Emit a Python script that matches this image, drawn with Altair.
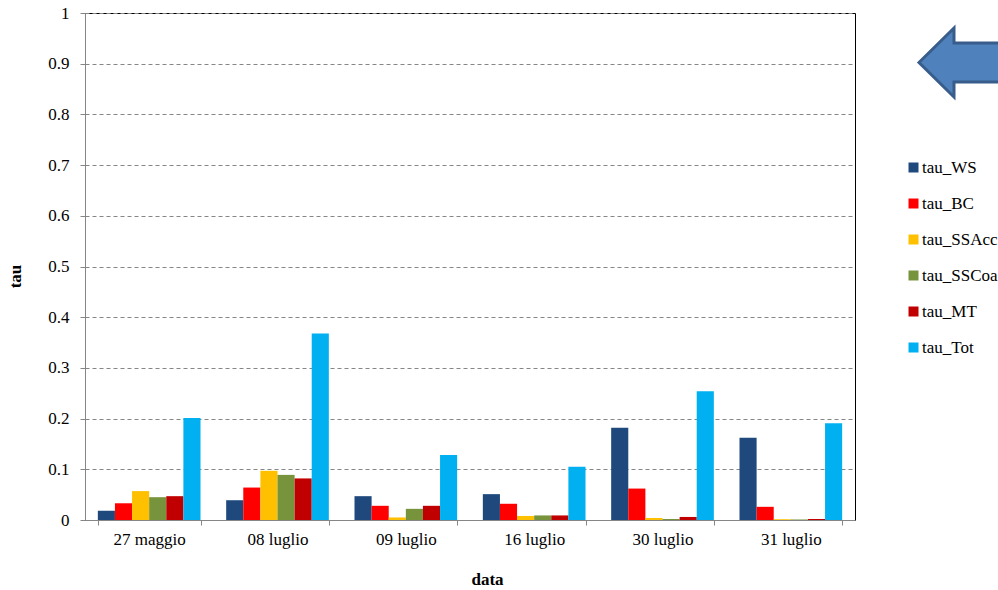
import altair as alt
import pandas as pd

# Dates of the measurement days
dates = ["27 maggio", "08 luglio", "09 luglio", "16 luglio", "30 luglio", "31 luglio"]

# Optical depth components
series = ["tau_WS", "tau_BC", "tau_SSAcc", "tau_SSCoa", "tau_MT", "tau_Tot"]
colors = ["#1F497D", "#FF0000", "#FFC000", "#77933C", "#C00000", "#00B0F0"]

tau_WS = [0.018, 0.039, 0.047, 0.051, 0.182, 0.162]
tau_BC = [0.033, 0.064, 0.028, 0.032, 0.062, 0.026]
tau_SSAcc = [0.057, 0.097, 0.005, 0.008, 0.004, 0.0015]
tau_SSCoa = [0.045, 0.089, 0.022, 0.009, 0.002, 0.001]
tau_MT = [0.047, 0.082, 0.028, 0.009, 0.006, 0.002]
tau_Tot = [0.201, 0.368, 0.128, 0.105, 0.254, 0.191]

y_ticks = [0, 0.1, 0.2, 0.3, 0.4, 0.5, 0.6, 0.7, 0.8, 0.9, 1]

rows = []
for name, vals in zip(series, [tau_WS, tau_BC, tau_SSAcc, tau_SSCoa, tau_MT, tau_Tot]):
    for d, v in zip(dates, vals):
        rows.append({"data": d, "serie": name, "tau": v})
df = pd.DataFrame(rows)

SERIF = "'Liberation Serif', 'Times New Roman', 'DejaVu Serif', serif"
AXIS_GREY = "#868686"

bars = alt.Chart(df).mark_bar().encode(
    x=alt.X(
        "data:N",
        sort=dates,
        scale=alt.Scale(paddingInner=0.2, paddingOuter=0.1),
        axis=alt.Axis(
            title="data",
            labelAngle=0,
            tickBand="extent",
            tickSize=5,
            labelPadding=6,
            titleX=402,
            titleY=59,
            titleBaseline="middle",
            titleAlign="center",
        ),
    ),
    xOffset=alt.XOffset(
        "serie:N", sort=series, scale=alt.Scale(paddingInner=0, paddingOuter=0)
    ),
    y=alt.Y(
        "tau:Q",
        scale=alt.Scale(domain=[0, 1], nice=False, zero=True),
        axis=alt.Axis(
            title="tau",
            values=y_ticks,
            format=".1~f",
            grid=True,
            gridDash=[4, 3],
            gridColor=AXIS_GREY,
            tickSize=5,
            labelPadding=11,
            titleX=-70,
            titleY=263,
            titleAngle=270,
            titleAlign="center",
            titleBaseline="middle",
        ),
    ),
    color=alt.Color(
        "serie:N",
        sort=series,
        scale=alt.Scale(domain=series, range=colors),
        legend=alt.Legend(
            title=None,
            orient="none",
            legendX=820,
            legendY=146,
            symbolType="square",
            symbolSize=100,
            symbolStrokeWidth=0,
            labelFont=SERIF,
            labelFontSize=17,
            labelColor="black",
            labelOffset=0,
            rowPadding=18,
            padding=0,
        ),
    ),
)

# Block arrow in the upper right corner, drawn as a custom symbol path
ARROW_PATH = (
    "M -1 0 L -0.5 -0.493 L -0.5 -0.279 L 1 -0.279 "
    "L 1 0.279 L -0.5 0.279 L -0.5 0.493 Z"
)
arrow = alt.Chart(alt.Data(values=[{"k": 1}])).mark_point(
    shape=ARROW_PATH,
    size=19600,
    filled=True,
    fill="#4F81BD",
    stroke="#385D8A",
    strokeWidth=3,
    opacity=1,
    fillOpacity=1,
    strokeOpacity=1,
).encode(x=alt.value(904), y=alt.value(49.5))

chart = (
    alt.layer(bars, arrow)
    .properties(
        width=770,
        height=507,
        autosize=alt.AutoSizeParams(type="none"),
        padding={"left": 85, "top": 13, "right": 143, "bottom": 70},
        background="white",
    )
    .configure_view(stroke="black", strokeWidth=1)
    .configure_axis(
        domainColor=AXIS_GREY,
        tickColor=AXIS_GREY,
        labelFont=SERIF,
        labelFontSize=17,
        labelColor="black",
        titleFont=SERIF,
        titleFontSize=17,
        titleFontWeight="bold",
        titleColor="black",
    )
    .configure_axisX(grid=False)
)

chart.save("out.html", embed_options={"renderer": "svg", "actions": False})
